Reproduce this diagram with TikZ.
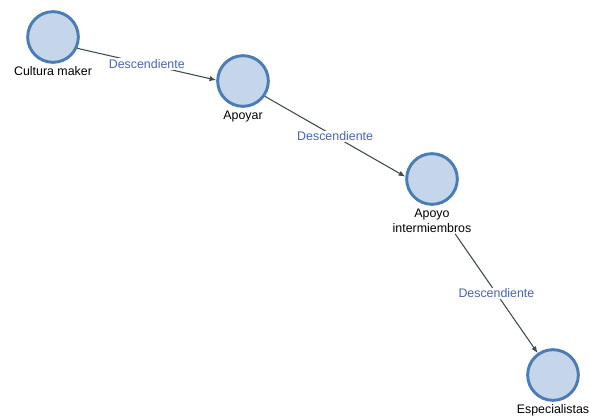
\documentclass[tikz,border=0pt]{standalone}
\usepackage{fontspec}
\setmainfont{Liberation Sans}
\usetikzlibrary{arrows.meta,positioning}
\definecolor{nodefill}{RGB}{197,213,234}
\definecolor{nodeline}{RGB}{74,124,182}
\definecolor{edgegray}{RGB}{60,75,75}
\definecolor{tagblue}{RGB}{70,100,190}

\begin{document}
\begin{tikzpicture}[x=0.75pt, y=-0.75pt, font=\fontsize{9.3}{11.2}\selectfont,
  >={Latex[length=5pt,width=4pt]},
  vx/.style={circle, draw=nodeline, fill=nodefill, line width=2.2pt, minimum size=38pt, inner sep=0pt},
  nm/.style={inner sep=1pt, align=center},
  rel/.style={->, draw=edgegray, line width=0.8pt},
  tag/.style={fill=white, text=tagblue, inner sep=1pt}]
\useasboundingbox (0,0) rectangle (590,418);
\node[vx] (c1) at (53,37) {};
\node[nm, below=1pt of c1] (l1) {Cultura maker};
\node[vx] (c2) at (243,81) {};
\node[nm, below=1pt of c2] (l2) {Apoyar};
\node[vx] (c3) at (432,179) {};
\node[nm, below=1pt of c3] (l3) {Apoyo\\intermiembros};
\node[vx] (c4) at (553,375) {};
\node[nm, below=1pt of c4] (l4) {Especialistas};
\draw[rel] (c1.-25) -- node[tag] {Descendiente} (c2.178);
\draw[rel] (c2.-35) -- node[tag] {Descendiente} (c3.175);
\draw[rel] (l3.-30) -- node[tag] {Descendiente} (c4.125);
\end{tikzpicture}
\end{document}
